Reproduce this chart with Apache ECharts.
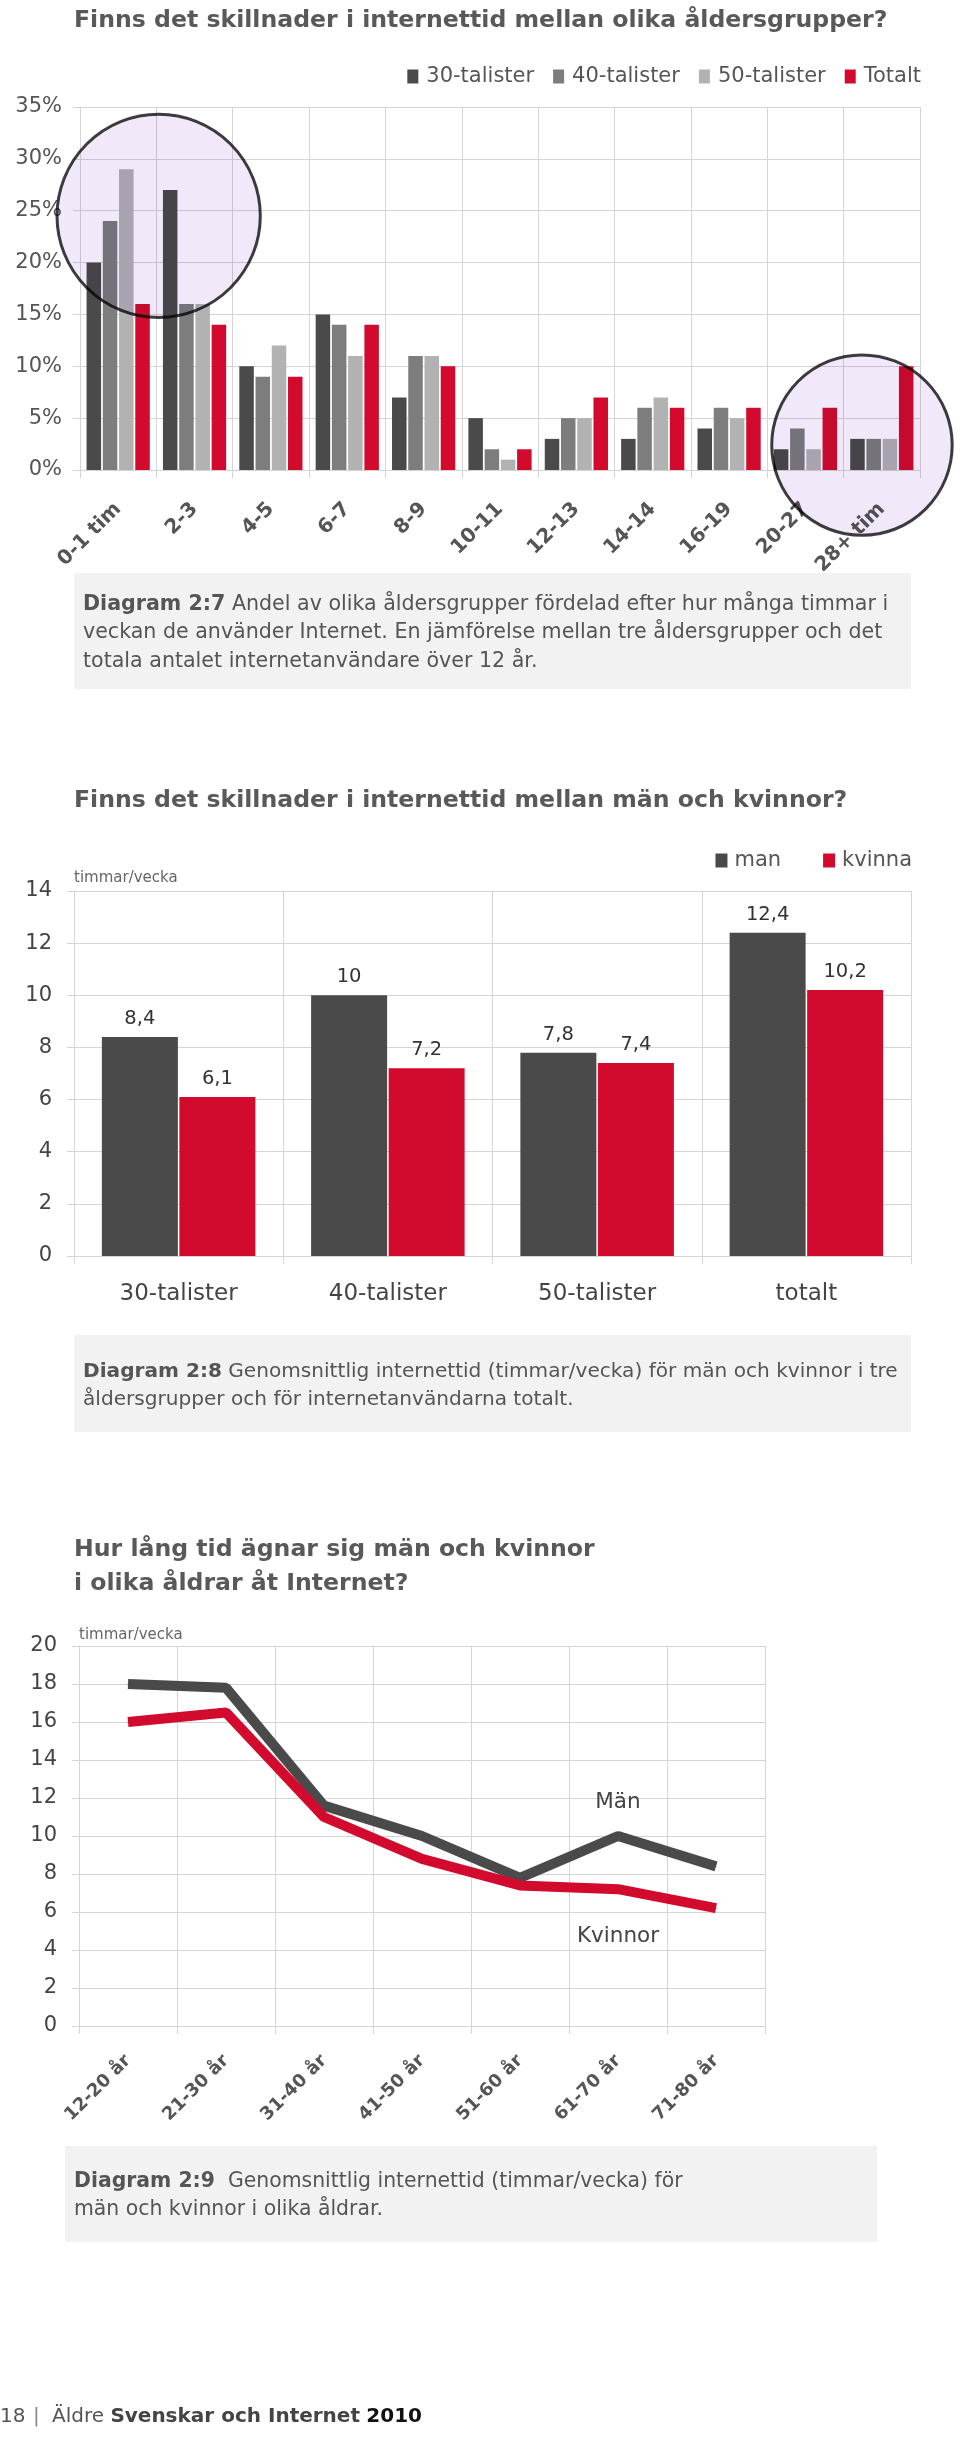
<!DOCTYPE html>
<html><head><meta charset="utf-8">
<script src="https://cdn.jsdelivr.net/npm/echarts@6/dist/echarts.min.js"></script>
<style>html,body{margin:0;padding:0;background:#fff}#c{width:960px;height:2439px}</style>
</head><body><div id="c"></div>
<script>
// ---- Diagram 2:7 data ----
const hourCategories = ['0-1 tim','2-3','4-5','6-7','8-9','10-11','12-13','14-14','16-19','20-27','28+ tim'];
const talister30 = [20,27,10,15,7,5,3,3,4,2,3];
const talister40 = [24,16,9,14,11,2,5,6,6,4,3];
const talister50 = [29,16,12,11,11,1,5,7,5,2,3];
const totalt = [16,14,9,14,10,2,7,6,6,6,10];
const ageSeriesNames = ['30-talister','40-talister','50-talister','Totalt'];

// ---- Diagram 2:8 data ----
const genderGroups = ['30-talister','40-talister','50-talister','totalt'];
const manValues = [8.4,10,7.8,12.4];
const kvinnaValues = [6.1,7.2,7.4,10.2];

// ---- Diagram 2:9 data ----
const ageGroups = ['12-20 år','21-30 år','31-40 år','41-50 år','51-60 år','61-70 år','71-80 år'];
const manByAge = [18,17.8,11.6,10,7.8,10,8.4];
const womenByAge = [16,16.5,11,8.8,7.4,7.2,6.2];

// highlight circles on diagram 2:7 (category position, value %, radius in %)
const highlightCircles = [
  {category: 0.53, value: 24.5, radius: 9.8},
  {category: 9.74, value: 2.4, radius: 8.7}
];

const FF = "'DejaVu Sans', sans-serif";
const GRID = '#d4d4d4';
const DARK = '#4a4a4a', MID = '#7d7d7d', LIGHT = '#b2b2b2', RED = '#d20a2e';
const comma = v => String(v).replace('.', ',');

const chart = echarts.init(document.getElementById('c'), null, {renderer: 'canvas'});

const catAxisBase = (gi, data, extra) => Object.assign({
  type: 'category', gridIndex: gi, data: data, boundaryGap: true,
  axisLine: {show: true, lineStyle: {color: GRID, width: 1}},
  axisTick: {show: true, length: 8, lineStyle: {color: GRID}},
  splitLine: {show: true, lineStyle: {color: GRID, width: 1}}
}, extra);
const valAxisBase = (gi, extra) => Object.assign({
  type: 'value', gridIndex: gi,
  axisLine: {show: true, lineStyle: {color: GRID}},
  axisTick: {show: true, length: 7, lineStyle: {color: GRID}},
  splitLine: {show: true, lineStyle: {color: GRID, width: 1}}
}, extra);

const titleStyle = {fontFamily: FF, fontWeight: 'bold', fontSize: 23.6, lineHeight: 24, color: '#595959'};

const option = {
  animation: false,
  backgroundColor: '#fff',
  textStyle: {fontFamily: FF},
  title: [
    {text: 'Finns det skillnader i internettid mellan olika åldersgrupper?', left: 74, top: 9, padding: 0, textStyle: titleStyle},
    {text: 'Finns det skillnader i internettid mellan män och kvinnor?', left: 74, top: 789, padding: 0, textStyle: titleStyle},
    {text: 'Hur lång tid ägnar sig män och kvinnor\ni olika åldrar åt Internet?', left: 74, top: 1533, padding: 0,
     textStyle: Object.assign({}, titleStyle, {lineHeight: 34})}
  ],
  legend: [
    {data: ageSeriesNames, right: 39, top: 66, padding: 0, icon: 'rect', itemWidth: 11, itemHeight: 14, itemGap: 19,
     textStyle: {fontFamily: FF, fontSize: 21, color: '#555', padding: [0,0,0,3]}},
    {data: ['man','kvinna'], right: 48, top: 850, padding: 0, icon: 'rect', itemWidth: 12, itemHeight: 14, itemGap: 42,
     textStyle: {fontFamily: FF, fontSize: 21, color: '#555', padding: [0,0,0,2]}}
  ],
  grid: [
    {left: 80, top: 107, width: 840, height: 363},
    {left: 74, top: 891, width: 837, height: 365},
    {left: 79, top: 1646, width: 686, height: 380}
  ],
  xAxis: [
    catAxisBase(0, hourCategories, {axisLabel: {interval: 0, rotate: 45, margin: 36, fontFamily: FF, fontSize: 20, fontWeight: 'bold', color: '#555'}}),
    catAxisBase(1, genderGroups, {axisLabel: {interval: 0, margin: 27, fontFamily: FF, fontSize: 23, color: '#444'}}),
    catAxisBase(2, ageGroups, {axisLabel: {interval: 0, rotate: 45, margin: 32, fontFamily: FF, fontSize: 18, fontWeight: 'bold', color: '#555'}})
  ],
  yAxis: [
    valAxisBase(0, {min: 0, max: 35, interval: 5, axisLabel: {formatter: '{value}%', margin: 18, fontFamily: FF, fontSize: 21, color: '#555'}}),
    valAxisBase(1, {min: 0, max: 14, interval: 2, name: 'timmar/vecka', nameLocation: 'end', nameGap: 5,
      nameTextStyle: {fontFamily: FF, fontSize: 15, color: '#666', align: 'left', verticalAlign: 'bottom'},
      axisLabel: {margin: 22, fontFamily: FF, fontSize: 21, color: '#444'}}),
    valAxisBase(2, {min: 0, max: 20, interval: 2, name: 'timmar/vecka', nameLocation: 'end', nameGap: 3,
      nameTextStyle: {fontFamily: FF, fontSize: 15, color: '#666', align: 'left', verticalAlign: 'bottom'},
      axisLabel: {margin: 22, fontFamily: FF, fontSize: 21, color: '#444'}})
  ],
  series: [
    {name: '30-talister', type: 'bar', xAxisIndex: 0, yAxisIndex: 0, data: talister30, barWidth: 14.5, barGap: '12%', itemStyle: {color: DARK}},
    {name: '40-talister', type: 'bar', xAxisIndex: 0, yAxisIndex: 0, data: talister40, barWidth: 14.5, barGap: '12%', itemStyle: {color: MID}},
    {name: '50-talister', type: 'bar', xAxisIndex: 0, yAxisIndex: 0, data: talister50, barWidth: 14.5, barGap: '12%', itemStyle: {color: LIGHT}},
    {name: 'Totalt', type: 'bar', xAxisIndex: 0, yAxisIndex: 0, data: totalt, barWidth: 14.5, barGap: '12%', itemStyle: {color: RED}},

    {name: 'man', type: 'bar', xAxisIndex: 1, yAxisIndex: 1, data: manValues, barWidth: 76, barGap: '2%', itemStyle: {color: DARK},
     label: {show: true, position: 'top', distance: 8, fontFamily: FF, fontSize: 19.5, color: '#333', formatter: p => comma(p.value)}},
    {name: 'kvinna', type: 'bar', xAxisIndex: 1, yAxisIndex: 1, data: kvinnaValues, barWidth: 76, barGap: '2%', itemStyle: {color: RED},
     label: {show: true, position: 'top', distance: 8, fontFamily: FF, fontSize: 19.5, color: '#333', formatter: p => comma(p.value)}},

    {name: 'Män', type: 'line', xAxisIndex: 2, yAxisIndex: 2, symbol: 'circle', symbolSize: 1,
     itemStyle: {color: DARK}, lineStyle: {color: DARK, width: 10},
     data: manByAge.map((v, i) => i === 5 ? {value: v, label: {show: true, formatter: 'Män', position: 'top', distance: 22, fontFamily: FF, fontSize: 21.5, color: '#444'}} : v)},
    {name: 'Kvinnor', type: 'line', xAxisIndex: 2, yAxisIndex: 2, symbol: 'circle', symbolSize: 1,
     itemStyle: {color: RED}, lineStyle: {color: RED, width: 10},
     data: womenByAge.map((v, i) => i === 5 ? {value: v, label: {show: true, formatter: 'Kvinnor', position: 'bottom', distance: 36, fontFamily: FF, fontSize: 21.5, color: '#444'}} : v)}
  ]
};
chart.setOption(option);

// captions, footer and highlight circles
const captionText = (x, y, lines, lh, fs) => ({
  type: 'text', x: x, y: y, z: 5,
  style: {text: lines.join('\n'), fontFamily: FF, fontSize: fs, fill: '#555', lineHeight: lh, verticalAlign: 'top',
    rich: {b: {fontFamily: FF, fontSize: fs, fontWeight: 'bold', fill: '#555', lineHeight: lh}}}
});
const graphics = [
  {type: 'rect', shape: {x: 74, y: 573, width: 837, height: 116}, style: {fill: '#f2f2f2'}, z: 1},
  captionText(83, 590, ['{b|Diagram 2:7} Andel av olika åldersgrupper fördelad efter hur många timmar i',
    'veckan de använder Internet. En jämförelse mellan tre åldersgrupper och det',
    'totala antalet internetanvändare över 12 år.'], 28.5, 20.6),
  {type: 'rect', shape: {x: 74, y: 1335, width: 837, height: 97}, style: {fill: '#f2f2f2'}, z: 1},
  captionText(83, 1358, ['{b|Diagram 2:8} Genomsnittlig internettid (timmar/vecka) för män och kvinnor i tre',
    'åldersgrupper och för internetanvändarna totalt.'], 28, 20.1),
  {type: 'rect', shape: {x: 65, y: 2146, width: 812, height: 96}, style: {fill: '#f2f2f2'}, z: 1},
  captionText(74, 2168, ['{b|Diagram 2:9}  Genomsnittlig internettid (timmar/vecka) för',
    'män och kvinnor i olika åldrar.'], 28, 20.4),
  {type: 'text', x: 0, y: 2405, z: 5, style: {text: '18', fontFamily: FF, fontSize: 20, fill: '#555', verticalAlign: 'top', lineHeight: 24}},
  {type: 'text', x: 33, y: 2405, z: 5, style: {text: '|', fontFamily: FF, fontSize: 20, fill: '#888', verticalAlign: 'top', lineHeight: 24}},
  {type: 'text', x: 52, y: 2405, z: 5, style: {text: 'Äldre {b|Svenskar och Internet} {k|2010}', fontFamily: FF, fontSize: 20, fill: '#555', verticalAlign: 'top', lineHeight: 24,
    rich: {b: {fontFamily: FF, fontSize: 20, fontWeight: 'bold', fill: '#444', lineHeight: 24}, k: {fontFamily: FF, fontSize: 20, fontWeight: 'bold', fill: '#111', lineHeight: 24}}}}
];
const finder = {xAxisIndex: 0, yAxisIndex: 0};
const p0 = chart.convertToPixel(finder, [0, 0]);
const p1 = chart.convertToPixel(finder, [1, 0]);
const step = p1[0] - p0[0];
highlightCircles.forEach(c => {
  const pc = chart.convertToPixel(finder, [0, c.value]);
  const pr = chart.convertToPixel(finder, [0, c.radius]);
  graphics.push({type: 'circle', z: 100,
    shape: {cx: p0[0] + c.category * step, cy: pc[1], r: p0[1] - pr[1]},
    style: {fill: 'rgba(218,198,238,0.38)', stroke: '#3d3d3d', lineWidth: 3, blend: 'multiply'}});
});
chart.setOption({graphic: graphics});
</script>
</body></html>
